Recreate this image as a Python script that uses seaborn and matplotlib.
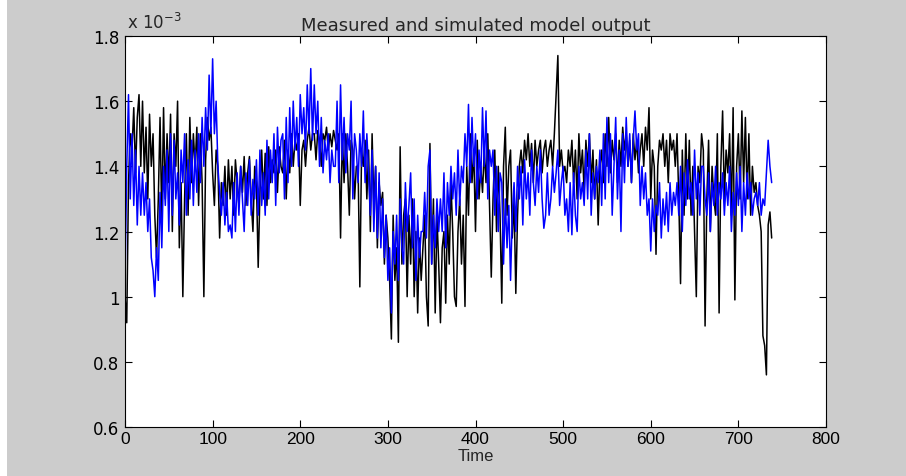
import numpy as np
import matplotlib
matplotlib.use("Agg")
import matplotlib.pyplot as plt
from matplotlib.patches import Rectangle
import seaborn as sns

# values in units of 1e-5 (hundredths of 1e-3), sampled every 2 time steps
measured = [
    100, 92, 135, 150, 145, 158, 138, 155, 162, 140,
    160, 138, 152, 130, 156, 140, 150, 125, 112, 130,
    155, 123, 158, 130, 150, 135, 156, 120, 150, 140,
    160, 115, 135, 100, 130, 150, 125, 155, 135, 150,
    140, 152, 128, 150, 135, 100, 142, 155, 148, 152,
    138, 128, 145, 140, 118, 135, 128, 140, 125, 142,
    130, 140, 125, 142, 135, 128, 140, 132, 143, 128,
    138, 143, 130, 120, 140, 135, 109, 132, 145, 130,
    144, 128, 146, 135, 142, 138, 145, 132, 146, 140,
    138, 148, 130, 145, 138, 150, 140, 148, 145, 150,
    128, 145, 148, 140, 148, 152, 145, 150, 150, 142,
    151, 148, 140, 150, 148, 152, 145, 150, 146, 151,
    148, 145, 150, 118, 150, 135, 150, 140, 125, 148,
    145, 130, 140, 140, 103, 145, 140, 148, 130, 145,
    120, 150, 128, 140, 115, 135, 128, 132, 110, 125,
    118, 105, 87, 125, 105, 115, 86, 146, 110, 125,
    130, 100, 125, 110, 130, 100, 120, 95, 118, 105,
    115, 125, 100, 91, 147, 110, 130, 95, 125, 110,
    92, 115, 120, 98, 125, 110, 135, 120, 100, 97,
    120, 130, 110, 125, 97, 140, 125, 150, 135, 145,
    120, 148, 130, 140, 132, 145, 135, 150, 128, 106,
    130, 145, 120, 140, 125, 98, 140, 152, 125, 140,
    145, 118, 130, 101, 125, 140, 145, 138, 148, 142,
    150, 140, 147, 135, 148, 140, 145, 148, 138, 145,
    148, 140, 145, 148, 140, 150, 162, 174, 140, 145,
    138, 140, 135, 145, 140, 148, 135, 145, 130, 150,
    138, 145, 132, 148, 140, 150, 135, 145, 130, 142,
    122, 140, 145, 135, 150, 140, 155, 138, 148, 142,
    150, 135, 148, 140, 152, 145, 150, 140, 148, 135,
    150, 142, 148, 138, 145, 150, 140, 152, 145, 158,
    130, 145, 140, 113, 140, 148, 145, 150, 140, 148,
    135, 150, 145, 148, 140, 150, 130, 104, 145, 125,
    150, 130, 148, 125, 140, 120, 100, 140, 135, 150,
    145, 91, 130, 148, 120, 140, 130, 125, 150, 95,
    140, 157, 130, 145, 138, 150, 125, 158, 99, 140,
    150, 130, 157, 135, 155, 130, 150, 125, 140, 132,
    135, 128, 125, 120, 88, 85, 76, 122, 126, 118,
]
simulated = [
    105, 140, 162, 130, 150, 128, 145, 122, 140, 125,
    138, 125, 135, 120, 130, 112, 108, 100, 115, 105,
    132, 115, 140, 128, 145, 120, 150, 125, 148, 130,
    138, 122, 145, 135, 150, 125, 142, 130, 148, 128,
    145, 132, 150, 135, 155, 140, 158, 145, 168, 150,
    173, 150, 160, 140, 132, 125, 135, 122, 132, 120,
    122, 118, 135, 120, 138, 125, 140, 130, 120, 138,
    128, 142, 125, 136, 130, 142, 125, 145, 128, 138,
    125, 148, 130, 145, 135, 150, 128, 152, 138, 148,
    150, 130, 155, 135, 158, 140, 160, 145, 155, 140,
    162, 150, 158, 145, 165, 150, 170, 148, 165, 150,
    160, 140, 155, 138, 148, 142, 150, 135, 145, 140,
    140, 160, 135, 165, 142, 155, 138, 150, 145, 160,
    130, 150, 145, 135, 150, 140, 157, 135, 150, 138,
    125, 145, 120, 140, 118, 138, 115, 130, 112, 125,
    105, 115, 95, 120, 110, 125, 105, 130, 115, 110,
    135, 120, 128, 138, 115, 130, 105, 125, 112, 120,
    120, 132, 118, 140, 145, 110, 125, 115, 130, 120,
    130, 120, 138, 115, 135, 125, 140, 130, 138, 125,
    145, 128, 140, 135, 150, 140, 159, 135, 155, 140,
    150, 130, 145, 135, 158, 140, 157, 130, 145, 140,
    145, 125, 140, 120, 138, 135, 110, 130, 115, 128,
    105, 125, 135, 120, 140, 130, 140, 122, 142, 130,
    138, 125, 145, 135, 128, 140, 132, 145, 130, 121,
    125, 138, 125, 130, 140, 132, 138, 145, 128, 135,
    140, 125, 130, 120, 135, 119, 138, 125, 120, 140,
    130, 135, 128, 145, 130, 150, 125, 138, 130, 140,
    135, 145, 128, 150, 130, 155, 135, 150, 125, 140,
    155, 130, 145, 120, 150, 135, 155, 140, 150, 135,
    148, 157, 145, 150, 128, 140, 130, 138, 125, 130,
    114, 130, 120, 128, 125, 135, 118, 130, 122, 132,
    120, 135, 125, 132, 128, 135, 125, 140, 120, 138,
    128, 142, 130, 135, 125, 145, 130, 138, 125, 140,
    140, 130, 125, 138, 120, 135, 128, 140, 125, 135,
    130, 138, 125, 135, 128, 140, 120, 132, 125, 138,
    128, 140, 120, 135, 125, 138, 130, 135, 125, 130,
    132, 128, 135, 125, 130, 128, 138, 148, 140, 135,
]
time_step = 2

x_ticks = [0, 100, 200, 300, 400, 500, 600, 700, 800]
y_ticks = [0.6, 0.8, 1.0, 1.2, 1.4, 1.6, 1.8]

t_meas = np.arange(len(measured)) * time_step
t_sim = np.arange(len(simulated)) * time_step
y_meas = np.array(measured) / 100.0
y_sim = np.array(simulated) / 100.0

sns.set_style("ticks")
plt.rcParams["font.family"] = ["DejaVu Sans"]
plt.rcParams["mathtext.fontset"] = "dejavusans"

narrow = ["Liberation Sans Narrow", "Liberation Sans", "DejaVu Sans"]

fig = plt.figure(figsize=(9.06, 4.77), dpi=100, facecolor="#cccccc")
fig.patches.append(Rectangle((0, 0), 7 / 906, 1, transform=fig.transFigure,
                             facecolor="white", edgecolor="none", zorder=-5))
ax = fig.add_axes([125 / 906, 1 - 428 / 477, (826 - 125) / 906, (428 - 37) / 477])
ax.set_facecolor("white")

sns.lineplot(x=t_meas, y=y_meas, color="black", lw=1.1, estimator=None, ax=ax)
sns.lineplot(x=t_sim, y=y_sim, color="#0000ff", lw=1.1, estimator=None, ax=ax)

ax.set_xlim(0, 800)
ax.set_ylim(0.6, 1.8)
ax.set_xticks(x_ticks)
ax.set_yticks(y_ticks)
ax.set_xticklabels([f"{v:g}" for v in x_ticks], family=narrow, fontsize=12.5)
ax.set_yticklabels([f"{v:g}" for v in y_ticks], fontsize=12)
ax.tick_params(direction="in", length=5, width=0.8, top=True, right=True,
               colors="black", pad=4)
ax.tick_params(axis="x", pad=3)
for s in ax.spines.values():
    s.set_visible(True)
    s.set_color("black")
    s.set_linewidth(0.8)

ax.set_xlabel("Time", fontsize=12, family=narrow, labelpad=1)
ax.set_ylabel("")
ax.set_title("Measured and simulated model output", fontsize=13, pad=4)
ax.text(0.003, 1.01, "x 10$^{-3}$", transform=ax.transAxes, fontsize=12,
        ha="left", va="bottom")

fig.savefig("out.png", dpi=100, facecolor=fig.get_facecolor())
